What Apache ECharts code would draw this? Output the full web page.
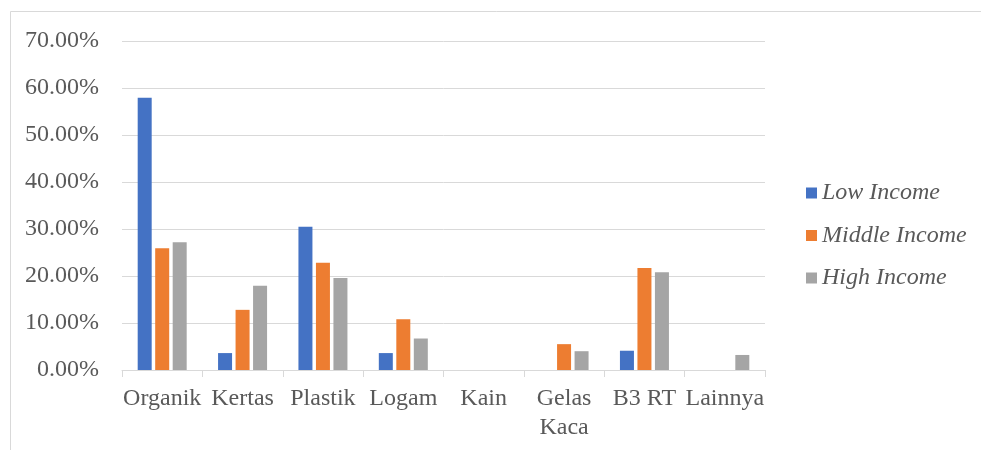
<!DOCTYPE html>
<html>
<head>
<meta charset="utf-8">
<script src="https://cdn.jsdelivr.net/npm/echarts@6/dist/echarts.min.js"></script>
<style>
  html, body { margin: 0; padding: 0; background: #ffffff; }
  #chart { width: 981px; height: 450px; }
</style>
</head>
<body>
<div id="chart"></div>
<script>
// Waste composition by income group (percent)
const categories = ['Organik', 'Kertas', 'Plastik', 'Logam', 'Kain', 'Gelas\nKaca', 'B3 RT', 'Lainnya'];
const lowIncome = [57.9, 3.6, 30.5, 3.6, 0, 0, 4.1, 0];
const middleIncome = [25.9, 12.8, 22.8, 10.8, 0, 5.5, 21.7, 0];
const highIncome = [27.2, 17.9, 19.6, 6.7, 0, 4.0, 20.8, 3.2];
const seriesNames = ['Low Income', 'Middle Income', 'High Income'];
const yTicks = { min: 0, max: 70, interval: 10 };

const textColor = '#595959';
const lineColor = '#d9d9d9';
const font = '"Liberation Serif", "Times New Roman", serif';
const fontSize = 24;

const chart = echarts.init(document.getElementById('chart'), null, { renderer: 'canvas' });

chart.setOption({
  backgroundColor: '#ffffff',
  animation: false,
  color: ['#4472c4', '#ed7d31', '#a5a5a5'],
  graphic: [{
    type: 'rect',
    shape: { x: 10.5, y: 11.5, width: 1500, height: 900 },
    style: { fill: 'none', stroke: lineColor, lineWidth: 1 },
    silent: true
  }],
  grid: { left: 122, right: 216, top: 41, bottom: 80 },
  legend: {
    orient: 'vertical',
    left: 801,
    top: 176,
    icon: 'rect',
    itemWidth: 11,
    itemHeight: 11,
    itemGap: 18.5,
    textStyle: {
      fontFamily: font,
      fontStyle: 'italic',
      fontSize: fontSize,
      lineHeight: 24,
      color: textColor
    },
    data: seriesNames
  },
  xAxis: {
    type: 'category',
    data: categories,
    axisLine: { lineStyle: { color: lineColor, width: 1 } },
    axisTick: { show: true, length: 7, lineStyle: { color: lineColor } },
    axisLabel: {
      interval: 0,
      margin: 14,
      fontFamily: font,
      fontSize: fontSize,
      lineHeight: 29,
      color: textColor
    }
  },
  yAxis: {
    type: 'value',
    min: yTicks.min,
    max: yTicks.max,
    interval: yTicks.interval,
    axisLine: { show: false },
    axisTick: { show: false },
    splitLine: { lineStyle: { color: lineColor, width: 1 } },
    axisLabel: {
      margin: 23,
      fontFamily: font,
      fontSize: fontSize,
      color: textColor,
      formatter: v => v.toFixed(2) + '%'
    }
  },
  series: [
    { name: seriesNames[0], type: 'bar', data: lowIncome, barWidth: 14, barGap: '25%' },
    { name: seriesNames[1], type: 'bar', data: middleIncome, barWidth: 14, barGap: '25%' },
    { name: seriesNames[2], type: 'bar', data: highIncome, barWidth: 14, barGap: '25%' }
  ]
});
</script>
</body>
</html>
